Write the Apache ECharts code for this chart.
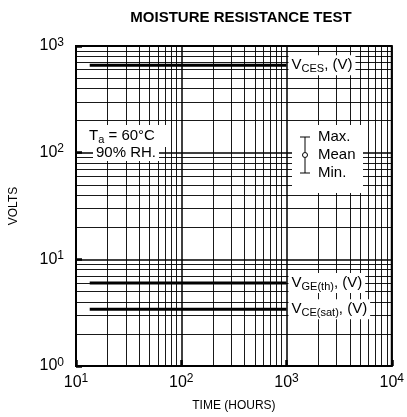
<!DOCTYPE html>
<html>
<head>
<meta charset="utf-8">
<script src="https://cdn.jsdelivr.net/npm/echarts@6/dist/echarts.min.js"></script>
<style>
  html, body { margin: 0; padding: 0; background: #fff; }
  #chart { width: 407px; height: 417px; }
</style>
</head>
<body>
<div id="chart"></div>
<script>
  // data (log-log)
  const timeStart = 13.5;
  const timeEnd = 1000;
  const vces = [660, 660];
  const vgeTh = [6.0, 6.0];
  const vceSat = [3.4, 3.4];

  const xDecades = [10, 100, 1000];
  const yDecades = [1, 10, 100];
  const minorSteps = [2, 3, 4, 5, 6, 7, 8, 9];

  const FONT = "Liberation Sans, Arial, sans-serif";

  // minor grid lines at 2..9 of every decade
  const gridLines = [];
  xDecades.forEach((d) => minorSteps.forEach((m) => gridLines.push({ coords: [[d * m, 1], [d * m, 1000]] })));
  yDecades.forEach((d) => minorSteps.forEach((m) => gridLines.push({ coords: [[10, d * m], [10000, d * m]] })));

  const powLabel = (v) => "10{sup|" + Math.round(Math.log10(v)) + "}";
  const powRich = {
    sup: { fontSize: 12, fontFamily: FONT, color: "#000", verticalAlign: "top", lineHeight: 19 },
  };
  const subRich = {
    s: { fontSize: 11, fontFamily: FONT, color: "#000", verticalAlign: "bottom", lineHeight: 18 },
  };

  const line = (name, vals, text) => ({
    name,
    type: "line",
    data: [[timeStart, vals[0]], [timeEnd, vals[1]]],
    symbol: "none",
    z: 5,
    lineStyle: { color: "#000", width: 3 },
    endLabel: {
      show: true,
      formatter: text,
      distance: 2,
      color: "#000",
      fontSize: 15,
      fontFamily: FONT,
      lineHeight: 18,
      backgroundColor: "#fff",
      padding: [1, 3, 1, 3],
      rich: subRich,
    },
  });

  const chart = echarts.init(document.getElementById("chart"));
  chart.setOption({
    animation: false,
    title: {
      text: "MOISTURE RESISTANCE TEST",
      left: 236,
      textAlign: "center",
      top: 5,
      textStyle: { fontSize: 15, fontWeight: "bold", fontFamily: FONT, color: "#000" },
    },
    grid: { left: 76, right: 11, top: 46, bottom: 51, show: true, borderColor: "#000", borderWidth: 2 },
    xAxis: {
      type: "log",
      logBase: 10,
      min: 10,
      max: 10000,
      interval: 1,
      name: "TIME (HOURS)",
      nameLocation: "middle",
      nameGap: 34,
      nameTextStyle: { fontSize: 12, fontFamily: FONT, color: "#000" },
      axisLine: { lineStyle: { color: "#000", width: 2 } },
      axisTick: { inside: true, length: 6, lineStyle: { color: "#000", width: 2.5 } },
      splitLine: { show: true, lineStyle: { color: "#000", width: 1.5 } },
      axisLabel: {
        formatter: powLabel,
        margin: 7,
        fontSize: 16,
        fontFamily: FONT,
        color: "#000",
        lineHeight: 19,
        rich: powRich,
      },
    },
    yAxis: {
      type: "log",
      logBase: 10,
      min: 1,
      max: 1000,
      interval: 1,
      name: "VOLTS",
      nameLocation: "middle",
      nameGap: 56,
      nameTextStyle: { fontSize: 12, fontFamily: FONT, color: "#000" },
      axisLine: { lineStyle: { color: "#000", width: 2 } },
      axisTick: { inside: true, length: 6, lineStyle: { color: "#000", width: 2.5 } },
      splitLine: { show: true, lineStyle: { color: "#000", width: 1.5 } },
      axisLabel: {
        formatter: powLabel,
        margin: 12,
        fontSize: 16,
        fontFamily: FONT,
        color: "#000",
        lineHeight: 19,
        rich: powRich,
      },
    },
    series: [
      {
        type: "lines",
        coordinateSystem: "cartesian2d",
        silent: true,
        z: 1,
        lineStyle: { color: "#000", width: 1, opacity: 0.9 },
        data: gridLines,
      },
      line("VCES", vces, "V{s|CES}, (V)"),
      line("VGE(th)", vgeTh, "V{s|GE(th)}, (V)"),
      line("VCE(sat)", vceSat, "V{s|CE(sat)}, (V)"),
    ],
    graphic: [
      // T_a / RH annotation
      { type: "rect", left: 78, top: 125, shape: { width: 92, height: 22 }, style: { fill: "#fff" }, z: 10 },
      {
        type: "text",
        left: 89,
        top: 127,
        z: 11,
        style: {
          text: "T{s|a} = 60°C",
          fontSize: 15,
          fontFamily: FONT,
          fill: "#000",
          lineHeight: 18,
          rich: subRich,
        },
      },
      {
        type: "text",
        left: 93,
        top: 145,
        z: 11,
        style: {
          text: "90% RH.",
          fontSize: 15,
          fontFamily: FONT,
          fill: "#000",
          backgroundColor: "#fff",
          padding: [0, 3, 1, 3],
        },
      },
      // Max / Mean / Min key
      { type: "rect", left: 292, top: 125, shape: { width: 71, height: 68 }, style: { fill: "#fff" }, z: 10 },
      { type: "line", z: 11, shape: { x1: 305, y1: 137, x2: 305, y2: 152 }, style: { stroke: "#000", lineWidth: 1 } },
      { type: "line", z: 11, shape: { x1: 305, y1: 158, x2: 305, y2: 173 }, style: { stroke: "#000", lineWidth: 1 } },
      { type: "line", z: 11, shape: { x1: 300, y1: 137, x2: 310, y2: 137 }, style: { stroke: "#000", lineWidth: 1 } },
      { type: "line", z: 11, shape: { x1: 300, y1: 173, x2: 310, y2: 173 }, style: { stroke: "#000", lineWidth: 1 } },
      { type: "circle", z: 11, shape: { cx: 305, cy: 155, r: 2.5 }, style: { fill: "#fff", stroke: "#000", lineWidth: 1 } },
      {
        type: "text",
        left: 318,
        top: 128,
        z: 11,
        style: { text: "Max.\nMean\nMin.", fontSize: 15, lineHeight: 18, fontFamily: FONT, fill: "#000" },
      },
    ],
  });
</script>
</body>
</html>
